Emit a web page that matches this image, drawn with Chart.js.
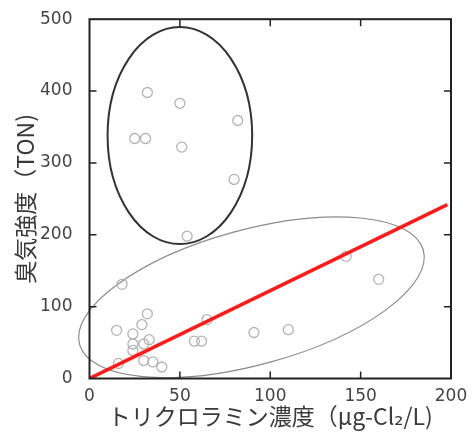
<!DOCTYPE html>
<html>
<head>
<meta charset="utf-8">
<script src="https://cdn.jsdelivr.net/npm/chart.js@4/dist/chart.umd.min.js"></script>
<style>
  html, body { margin: 0; padding: 0; background: #fff; }
  #wrap { width: 476px; height: 438px; }
</style>
</head>
<body>
<div id="wrap"><canvas id="c" width="476" height="438"></canvas></div>
<script>
// 上のグループ（高い臭気強度）
const upperX = [32, 50, 25, 31, 51, 82, 80, 54];
const upperY = [398, 383, 334, 334, 322, 359, 277, 198];

// 下のグループ
const lowerX = [18, 32, 15, 29, 24, 33, 24, 30, 24, 30, 35, 40, 16, 65, 58, 62, 91, 110, 142, 160];
const lowerY = [131, 90, 67, 75, 62, 54, 48, 48, 39, 25, 23, 16, 21, 82, 52, 52, 64, 68, 170, 138];

// 回帰直線
const fitX = [0, 198];
const fitY = [0, 242];

// グループを囲む楕円（中心・半径はデータ単位、傾きは度）
const ellipseCx = [50, 89.6];
const ellipseCy = [338, 113];
const ellipseRx = [40, 98.6];
const ellipseRy = [151, 94];
const ellipseTilt = [0, 15.3];

const xTickValues = [0, 50, 100, 150, 200];
const yTickValues = [0, 100, 200, 300, 400, 500];

const toPts = (xs, ys) => xs.map((x, i) => ({ x, y: ys[i] }));

const ellipsePlugin = {
  id: "groupEllipses",
  beforeDatasetsDraw(chart) {
    const { ctx, scales: { x, y } } = chart;
    const pxX = x.getPixelForValue(1) - x.getPixelForValue(0);
    const pxY = Math.abs(y.getPixelForValue(1) - y.getPixelForValue(0));
    const strokes = ["#333333", "#8a8a8a"];
    const widths = [2, 1.2];
    ctx.save();
    ellipseCx.forEach((cx, i) => {
      ctx.beginPath();
      ctx.ellipse(
        x.getPixelForValue(cx), y.getPixelForValue(ellipseCy[i]),
        ellipseRx[i] * pxX, ellipseRy[i] * pxY,
        -ellipseTilt[i] * Math.PI / 180, 0, Math.PI * 2
      );
      ctx.strokeStyle = strokes[i];
      ctx.lineWidth = widths[i];
      ctx.stroke();
    });
    ctx.restore();
  }
};

// 枠と内向きの目盛り
const framePlugin = {
  id: "frameTicks",
  afterDatasetsDraw(chart) {
    const { ctx, chartArea: a, scales: { x, y } } = chart;
    const len = 7;
    ctx.save();
    ctx.strokeStyle = "#222";
    ctx.lineWidth = 2;
    ctx.strokeRect(a.left, a.top, a.right - a.left, a.bottom - a.top);
    ctx.lineWidth = 1.5;
    ctx.beginPath();
    xTickValues.slice(1, -1).forEach(v => {
      const px = x.getPixelForValue(v);
      ctx.moveTo(px, a.bottom); ctx.lineTo(px, a.bottom - len);
      ctx.moveTo(px, a.top); ctx.lineTo(px, a.top + len);
    });
    yTickValues.slice(1, -1).forEach(v => {
      const py = y.getPixelForValue(v);
      ctx.moveTo(a.left, py); ctx.lineTo(a.left + len, py);
      ctx.moveTo(a.right, py); ctx.lineTo(a.right - len, py);
    });
    ctx.stroke();
    ctx.restore();
  }
};

const tickFont = { family: "'DejaVu Sans', 'Liberation Sans', sans-serif", size: 17 };
const titleFont = { family: "'Noto Sans CJK JP', 'DejaVu Sans', sans-serif", size: 23 };

new Chart(document.getElementById("c"), {
  type: "scatter",
  data: {
    datasets: [
      {
        type: "line",
        data: toPts(fitX, fitY),
        borderColor: "#ff1a1a",
        borderWidth: 3.5,
        pointRadius: 0,
        fill: false,
        order: 0,
      },
      {
        data: toPts(upperX, upperY),
        pointRadius: 5,
        pointBorderWidth: 1.3,
        pointBorderColor: "#b3b3b3",
        pointBackgroundColor: "rgba(255,255,255,0)",
        order: 1,
      },
      {
        data: toPts(lowerX, lowerY),
        pointRadius: 5,
        pointBorderWidth: 1.3,
        pointBorderColor: "#b3b3b3",
        pointBackgroundColor: "rgba(255,255,255,0)",
        order: 1,
      },
    ],
  },
  options: {
    responsive: false,
    animation: false,
    layout: { padding: { top: 16, right: 25, left: 0, bottom: 0 } },
    plugins: { legend: { display: false }, tooltip: { enabled: false } },
    scales: {
      x: {
        type: "linear",
        min: 0, max: 200,
        afterFit: s => { s.height = 59.5; },
        afterBuildTicks: s => { s.ticks = xTickValues.map(v => ({ value: v })); },
        grid: { display: false },
        border: { display: false },
        ticks: { color: "#444", font: tickFont, padding: 0, maxRotation: 0 },
        title: {
          display: true,
          text: "トリクロラミン濃度（μg-Cl₂/L)",
          color: "#3a3a3a",
          font: titleFont,
          padding: { top: 0, bottom: 8 },
        },
      },
      y: {
        type: "linear",
        min: 0, max: 500,
        afterFit: s => { s.width = 89.5; },
        afterBuildTicks: s => { s.ticks = yTickValues.map(v => ({ value: v })); },
        grid: { display: false },
        border: { display: false },
        ticks: { color: "#444", font: tickFont, padding: 9 },
        title: {
          display: true,
          text: "臭気強度（TON)",
          color: "#3a3a3a",
          font: titleFont,
          padding: { top: 11, bottom: 0 },
        },
      },
    },
  },
  plugins: [ellipsePlugin, framePlugin],
});
</script>
</body>
</html>
